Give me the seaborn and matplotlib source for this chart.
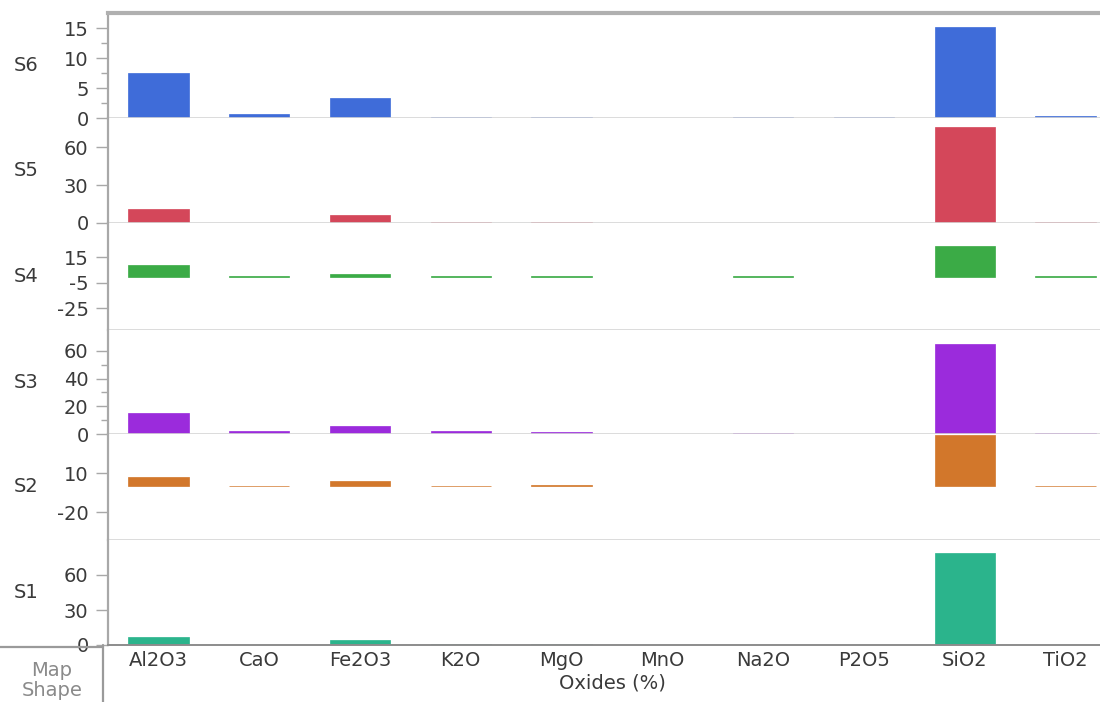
import matplotlib
matplotlib.use("Agg")
import matplotlib.pyplot as plt
from matplotlib.ticker import FixedLocator
import numpy as np
import pandas as pd
import seaborn as sns

# Oxide composition (%) per sample, one panel per sample
oxides = ["Al2O3", "CaO", "Fe2O3", "K2O", "MgO", "MnO", "Na2O", "P2O5", "SiO2", "TiO2"]
samples = ["S6", "S5", "S4", "S3", "S2", "S1"]

s6_values = [7.5, 0.7, 3.4, 0.2, 0.2, 0.0, 0.1, 0.2, 15.2, 0.3]
s5_values = [11.0, 0.3, 6.0, 0.5, 0.5, 0.0, 0.1, 0.0, 76.0, 0.5]
s4_values = [9.0, 0.5, 2.0, 0.5, 0.5, 0.0, 0.3, 0.0, 24.0, 0.3]
s3_values = [15.5, 2.2, 5.5, 2.0, 1.5, 0.0, 0.6, 0.0, 65.0, 1.0]
s2_values = [7.0, 0.3, 4.5, 0.5, 1.0, 0.0, 0.0, 0.0, 40.0, 0.2]
s1_values = [7.0, 0.3, 4.0, 1.0, 1.2, 0.0, 0.0, 0.0, 79.0, 0.0]

# Axis settings per panel: limits, major ticks, minor ticks
panel_ylim = {"S6": (0, 17.5), "S5": (0, 83), "S4": (-42, 42),
              "S3": (0, 75), "S2": (-41.2, 40.4), "S1": (0, 90)}
panel_ticks = {"S6": [0, 5, 10, 15], "S5": [0, 30, 60], "S4": [-25, -5, 15],
               "S3": [0, 20, 40, 60], "S2": [-20, 10], "S1": [0, 30, 60]}
panel_minor = {"S6": [2.5, 7.5, 12.5], "S3": [10, 30, 50]}

colors = {"S6": "#3f6cd9", "S5": "#d4475a", "S4": "#3bab46",
          "S3": "#9b2bdc", "S2": "#d2772b", "S1": "#2bb48c"}

values = {"S6": s6_values, "S5": s5_values, "S4": s4_values,
          "S3": s3_values, "S2": s2_values, "S1": s1_values}

df = pd.DataFrame(
    [(s, ox, v) for s in samples for ox, v in zip(oxides, values[s])],
    columns=["sample", "oxide", "value"],
)

sns.set_theme(style="white")
plt.rcParams["font.family"] = ["DejaVu Sans"]
plt.rcParams["axes.unicode_minus"] = False

W, H = 1100, 702
fig = plt.figure(figsize=(W / 100, H / 100), dpi=100)
fig.patch.set_facecolor("white")

text_color = "#3a3a3a"
axis_gray = "#a8a8a8"
fs = 14

# Panel boundaries in pixels (top, bottom)
bounds = {"S6": (13, 118), "S5": (118, 223), "S4": (223, 330),
          "S3": (330, 434), "S2": (434, 540), "S1": (540, 645)}
x_left, x_right = 108, 1116

for s in samples:
    top, bot = bounds[s]
    ax = fig.add_axes([x_left / W, 1 - bot / H, (x_right - x_left) / W, (bot - top) / H])
    ax.set_facecolor("white")
    sub = df[df["sample"] == s]
    sns.barplot(data=sub, x="oxide", y="value", order=oxides, color=colors[s],
                width=0.6, edgecolor=colors[s], linewidth=0.5, saturation=1,
                errorbar=None, ax=ax)
    # empty categories get no outline
    for patch in ax.patches:
        if patch.get_height() == 0:
            patch.set_visible(False)
    ax.set_xlim(-0.5, len(oxides) - 0.5)
    ax.set_ylim(*panel_ylim[s])
    ax.yaxis.set_major_locator(FixedLocator(panel_ticks[s]))
    ax.yaxis.set_minor_locator(FixedLocator(panel_minor.get(s, [])))
    ax.set_ylabel("")
    ax.tick_params(axis="y", which="major", length=9, width=1, color=axis_gray,
                   labelsize=fs, labelcolor=text_color, pad=5, left=True)
    ax.tick_params(axis="y", which="minor", length=5, width=1, color=axis_gray, left=True)
    for side in ["top", "right"]:
        ax.spines[side].set_visible(False)
    ax.spines["left"].set_color(axis_gray)
    ax.spines["left"].set_linewidth(1.6)
    ax.spines["bottom"].set_color("#d6d6d6")
    ax.spines["bottom"].set_linewidth(1.2)
    if s == "S6":
        ax.spines["top"].set_visible(True)
        ax.spines["top"].set_color("#b0b0b0")
        ax.spines["top"].set_linewidth(3)
    if s == "S1":
        ax.spines["bottom"].set_color("#8c8c8c")
        ax.spines["bottom"].set_linewidth(1.4)
        ax.tick_params(axis="x", length=0, labelsize=fs, labelcolor=text_color, pad=4)
        ax.set_xlabel("Oxides (%)", fontsize=fs, color=text_color, labelpad=3)
    else:
        ax.set_xticklabels([])
        ax.tick_params(axis="x", length=0)
        ax.set_xlabel("")
    # sample label in the left margin
    fig.text(26 / W, 1 - ((top + bot) / 2) / H, s, fontsize=fs, color=text_color,
             ha="center", va="center")

# "Map Shape" drop zone in the lower-left corner
fig.add_artist(plt.Line2D([0, 103 / W], [1 - 647 / H, 1 - 647 / H],
                          color="#9a9a9a", linewidth=1.6, transform=fig.transFigure))
fig.add_artist(plt.Line2D([103 / W, 103 / W], [1 - 645 / H, 0],
                          color="#9a9a9a", linewidth=1.6, transform=fig.transFigure))
fig.text(52 / W, 1 - 671 / H, "Map", fontsize=fs, color="#8a8a8a", ha="center", va="center")
fig.text(52 / W, 1 - 691 / H, "Shape", fontsize=fs, color="#8a8a8a", ha="center", va="center")

fig.savefig("out.png", dpi=100, facecolor="white")
